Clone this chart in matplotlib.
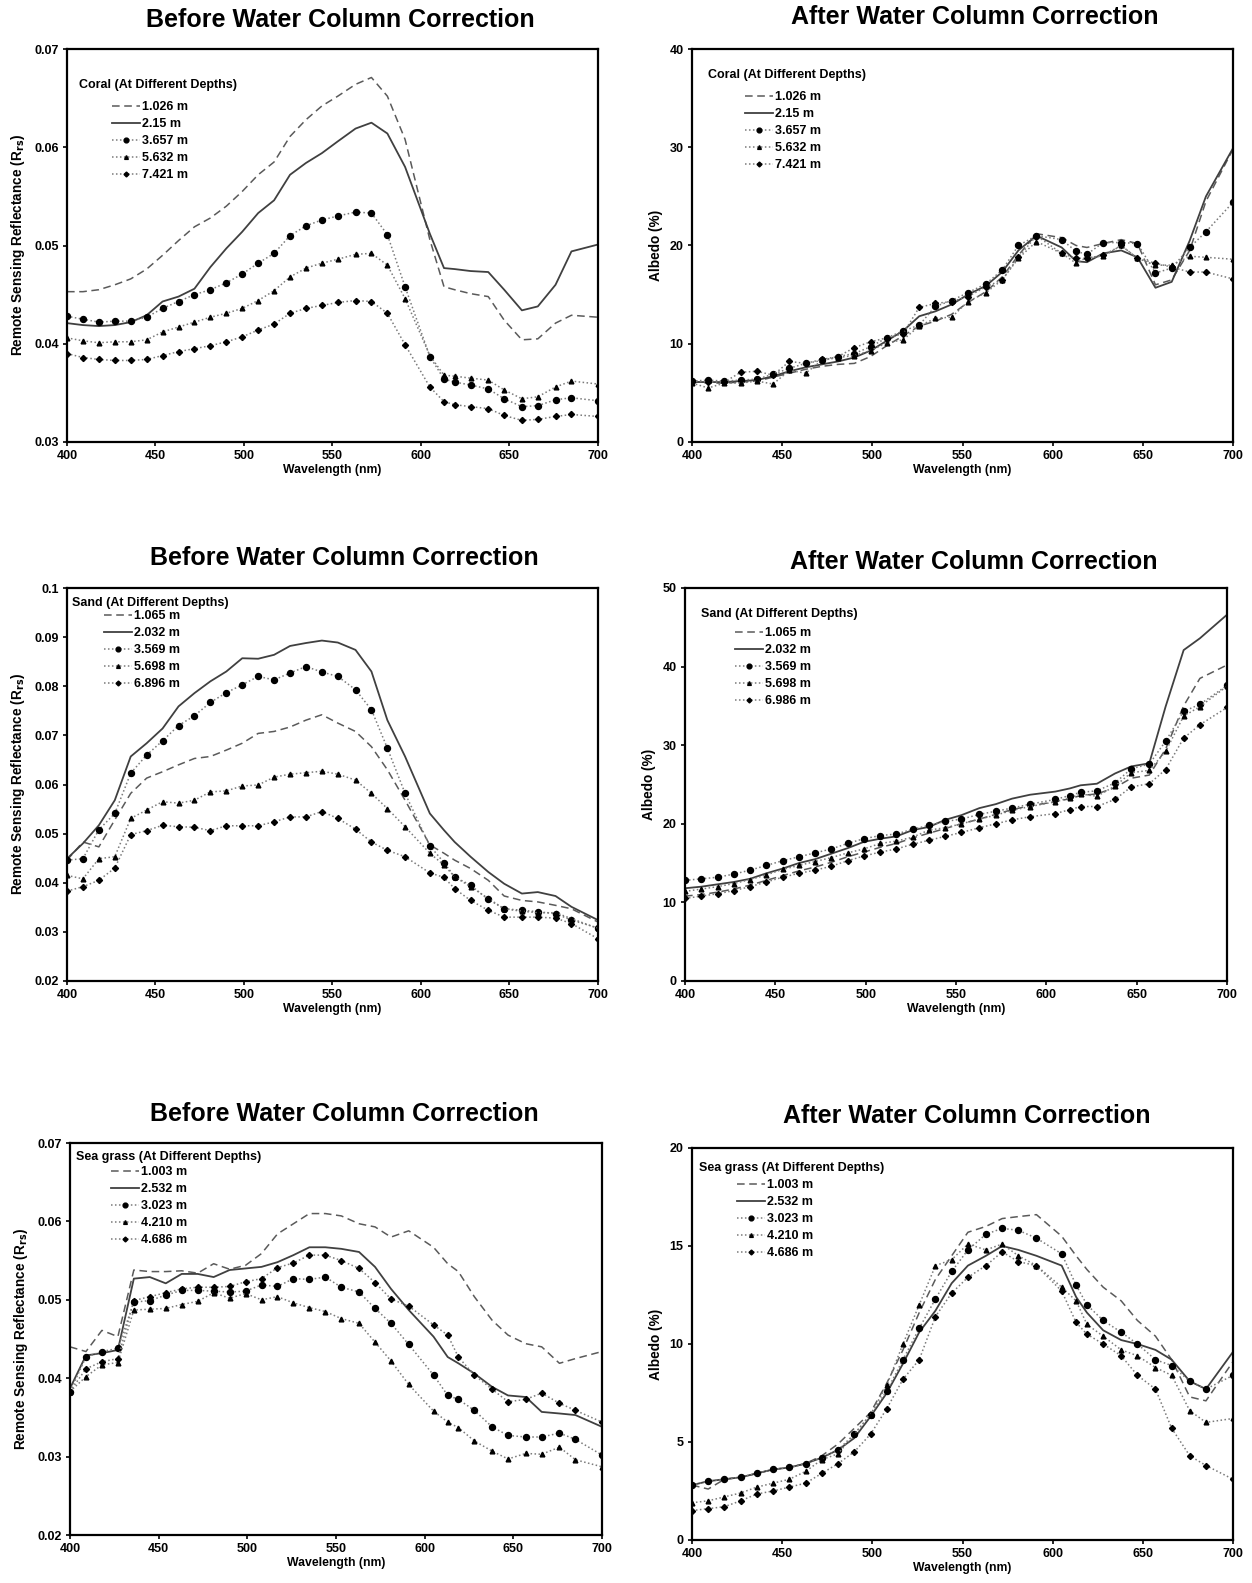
import numpy as np
import matplotlib.pyplot as plt
from matplotlib.ticker import FuncFormatter, MultipleLocator

plt.rcParams['font.family'] = ['Liberation Sans', 'DejaVu Sans']
plt.rcParams['font.weight'] = 'bold'

wl = [400, 409, 418, 427, 436, 445, 454, 463, 472, 481, 490, 499, 508, 517, 526, 535,
      544, 553, 563, 572, 581, 591, 605, 613, 619, 628, 638, 647, 657, 666, 676, 685, 700]

# coral, before correction (Rrs)
coral_before = {
    '1.026 m': [0.0453, 0.0453, 0.0455, 0.0460, 0.0466, 0.0476, 0.0490, 0.0505, 0.0519, 0.0528, 0.0540,
                0.0555, 0.0572, 0.0585, 0.0611, 0.0628, 0.0642, 0.0652, 0.0664, 0.0671, 0.0652, 0.0608,
                0.0506, 0.0458, 0.0455, 0.0451, 0.0448, 0.0424, 0.0404, 0.0405, 0.0421, 0.0429, 0.0427],
    '2.15 m': [0.0421, 0.0419, 0.0418, 0.0419, 0.0422, 0.0429, 0.0443, 0.0448, 0.0456, 0.0478, 0.0497,
               0.0514, 0.0533, 0.0546, 0.0572, 0.0584, 0.0594, 0.0606, 0.0619, 0.0625, 0.0614, 0.0580,
               0.0512, 0.0477, 0.0476, 0.0474, 0.0473, 0.0455, 0.0434, 0.0438, 0.0460, 0.0494, 0.0501],
    '3.657 m': [0.0428, 0.0425, 0.0422, 0.0423, 0.0423, 0.0427, 0.0436, 0.0443, 0.0450, 0.0455, 0.0462,
                0.0471, 0.0482, 0.0492, 0.0510, 0.0520, 0.0526, 0.0530, 0.0534, 0.0533, 0.0511, 0.0458,
                0.0387, 0.0364, 0.0361, 0.0358, 0.0354, 0.0344, 0.0336, 0.0337, 0.0343, 0.0345, 0.0342],
    '5.632 m': [0.0406, 0.0403, 0.0401, 0.0402, 0.0402, 0.0404, 0.0412, 0.0417, 0.0422, 0.0427, 0.0431,
                0.0436, 0.0444, 0.0454, 0.0468, 0.0477, 0.0482, 0.0486, 0.0491, 0.0492, 0.0480, 0.0446,
                0.0388, 0.0368, 0.0367, 0.0365, 0.0363, 0.0353, 0.0344, 0.0346, 0.0356, 0.0362, 0.0359],
    '7.421 m': [0.0390, 0.0386, 0.0384, 0.0383, 0.0383, 0.0384, 0.0388, 0.0392, 0.0395, 0.0398, 0.0402,
                0.0407, 0.0414, 0.0420, 0.0431, 0.0436, 0.0439, 0.0442, 0.0444, 0.0443, 0.0431, 0.0399,
                0.0356, 0.0341, 0.0338, 0.0336, 0.0334, 0.0327, 0.0322, 0.0323, 0.0326, 0.0328, 0.0326],
}

# coral, after correction (albedo %)
coral_after = {
    '1.026 m': [6.2, 6.0, 6.0, 6.1, 6.2, 6.6, 7.0, 7.4, 7.7, 7.9, 8.0, 8.7, 9.8, 10.8, 11.8, 12.3, 13.0,
                14.2, 15.3, 16.8, 19.0, 21.2, 20.8, 20.0, 19.8, 20.2, 20.6, 20.2, 16.0, 16.5, 19.5, 24.5, 29.8],
    '2.15 m': [6.1, 6.1, 6.1, 6.2, 6.3, 6.7, 7.2, 7.6, 7.9, 8.2, 8.6, 9.3, 10.3, 11.3, 12.8, 13.3, 14.0,
               15.0, 15.9, 17.3, 19.5, 21.0, 19.8, 18.4, 18.3, 19.2, 19.5, 18.8, 15.7, 16.3, 20.5, 25.0, 29.9],
    '3.657 m': [6.2, 6.3, 6.2, 6.3, 6.4, 6.9, 7.5, 8.0, 8.3, 8.7, 9.0, 9.7, 10.6, 11.3, 11.9, 13.8, 14.4,
                15.2, 16.1, 17.5, 20.0, 21.0, 20.6, 19.4, 19.1, 20.3, 20.3, 20.2, 17.2, 17.7, 19.8, 21.4, 24.4],
    '5.632 m': [6.0, 5.5, 6.0, 6.0, 6.2, 5.9, 7.3, 7.0, 8.3, 8.6, 8.8, 9.3, 10.1, 10.4, 11.8, 12.6, 12.7,
                14.3, 15.2, 16.5, 18.7, 20.4, 19.2, 18.2, 18.8, 18.9, 20.0, 18.7, 18.0, 18.0, 18.9, 18.8, 18.6],
    '7.421 m': [6.2, 6.1, 6.1, 7.1, 7.2, 6.8, 8.2, 8.0, 8.4, 8.7, 9.6, 10.2, 10.6, 11.0, 13.7, 14.1, 14.3,
                14.8, 15.8, 16.5, 18.8, 21.0, 19.2, 18.7, 18.7, 19.0, 20.0, 18.7, 18.2, 17.8, 17.3, 17.3, 16.6],
}

# sand, before correction (Rrs)
sand_before = {
    '1.065 m': [0.0446, 0.0483, 0.0473, 0.0528, 0.0582, 0.0613, 0.0626, 0.0640, 0.0653, 0.0657, 0.0670,
                0.0684, 0.0704, 0.0708, 0.0717, 0.0731, 0.0742, 0.0725, 0.0708, 0.0677, 0.0630, 0.0568,
                0.0477, 0.0460, 0.0446, 0.0429, 0.0405, 0.0373, 0.0364, 0.0361, 0.0354, 0.0347, 0.0320],
    '2.032 m': [0.0449, 0.0480, 0.0517, 0.0568, 0.0657, 0.0684, 0.0714, 0.0759, 0.0786, 0.0810, 0.0830,
                0.0857, 0.0856, 0.0864, 0.0882, 0.0888, 0.0893, 0.0889, 0.0874, 0.0830, 0.0731, 0.0657,
                0.0541, 0.0507, 0.0483, 0.0453, 0.0422, 0.0398, 0.0378, 0.0381, 0.0373, 0.0351, 0.0324],
    '3.569 m': [0.0446, 0.0449, 0.0508, 0.0541, 0.0623, 0.0660, 0.0689, 0.0720, 0.0740, 0.0767, 0.0787,
                0.0803, 0.0820, 0.0813, 0.0827, 0.0840, 0.0829, 0.0820, 0.0793, 0.0752, 0.0674, 0.0582,
                0.0475, 0.0441, 0.0412, 0.0395, 0.0366, 0.0347, 0.0344, 0.0341, 0.0337, 0.0324, 0.0308],
    '5.698 m': [0.0415, 0.0408, 0.0449, 0.0453, 0.0531, 0.0548, 0.0565, 0.0562, 0.0568, 0.0585, 0.0587,
                0.0597, 0.0599, 0.0615, 0.0621, 0.0624, 0.0627, 0.0621, 0.0609, 0.0582, 0.0551, 0.0514,
                0.0460, 0.0436, 0.0412, 0.0392, 0.0368, 0.0347, 0.0342, 0.0339, 0.0339, 0.0327, 0.0307],
    '6.896 m': [0.0383, 0.0392, 0.0405, 0.0430, 0.0498, 0.0506, 0.0517, 0.0514, 0.0513, 0.0506, 0.0516,
                0.0516, 0.0516, 0.0524, 0.0534, 0.0534, 0.0545, 0.0531, 0.0509, 0.0483, 0.0466, 0.0453,
                0.0420, 0.0411, 0.0388, 0.0364, 0.0344, 0.0330, 0.0330, 0.0330, 0.0328, 0.0317, 0.0286],
}

# sand, after correction (albedo %)
sand_after = {
    '1.065 m': [10.8, 11.0, 11.3, 11.7, 12.2, 12.8, 13.4, 14.0, 14.5, 15.1, 15.8, 16.4, 17.0, 17.5, 18.2,
                18.8, 19.4, 20.0, 20.6, 21.2, 21.8, 22.3, 22.8, 23.2, 23.6, 23.8, 24.6, 25.8, 26.2, 29.5,
                35.0, 38.5, 40.2],
    '2.032 m': [11.8, 12.0, 12.3, 12.6, 13.0, 13.7, 14.3, 15.0, 15.5, 16.2, 16.9, 17.7, 18.1, 18.4, 19.2,
                19.6, 20.5, 21.1, 22.0, 22.5, 23.2, 23.7, 24.1, 24.5, 24.9, 25.1, 26.4, 27.3, 27.7, 34.9,
                42.1, 43.6, 46.6],
    '3.569 m': [12.8, 13.0, 13.2, 13.6, 14.1, 14.7, 15.3, 15.8, 16.3, 16.8, 17.5, 18.1, 18.5, 18.7, 19.3,
                19.8, 20.3, 20.6, 21.2, 21.6, 22.0, 22.5, 23.1, 23.6, 24.0, 24.2, 25.2, 27.0, 27.6, 30.5,
                34.3, 35.2, 37.6],
    '5.698 m': [11.4, 11.7, 12.0, 12.4, 12.9, 13.5, 14.2, 14.7, 15.2, 15.7, 16.3, 16.8, 17.5, 17.8, 18.3,
                19.2, 19.5, 20.0, 20.6, 21.1, 21.7, 22.2, 22.8, 23.3, 23.8, 23.5, 24.8, 26.5, 26.8, 29.2,
                33.7, 34.9, 37.5],
    '6.986 m': [10.5, 10.8, 11.1, 11.5, 12.0, 12.6, 13.2, 13.7, 14.1, 14.6, 15.3, 15.9, 16.4, 16.8, 17.4,
                17.9, 18.4, 18.9, 19.5, 20.0, 20.5, 20.9, 21.3, 21.8, 22.2, 22.2, 23.1, 24.7, 25.1, 26.9,
                30.9, 32.6, 34.8],
}

# sea grass, before correction (Rrs)
grass_before = {
    '1.003 m': [0.0440, 0.0434, 0.0461, 0.0453, 0.0538, 0.0536, 0.0536, 0.0537, 0.0534, 0.0546, 0.0539,
                0.0544, 0.0559, 0.0584, 0.0597, 0.0610, 0.0610, 0.0607, 0.0597, 0.0593, 0.0580, 0.0588,
                0.0567, 0.0546, 0.0536, 0.0504, 0.0474, 0.0455, 0.0444, 0.0440, 0.0419, 0.0425, 0.0434],
    '2.532 m': [0.0387, 0.0429, 0.0432, 0.0436, 0.0527, 0.0529, 0.0521, 0.0533, 0.0533, 0.0529, 0.0538,
                0.0540, 0.0542, 0.0548, 0.0557, 0.0567, 0.0567, 0.0565, 0.0561, 0.0542, 0.0514, 0.0487,
                0.0453, 0.0427, 0.0419, 0.0406, 0.0389, 0.0378, 0.0376, 0.0357, 0.0355, 0.0353, 0.0338],
    '3.023 m': [0.0383, 0.0427, 0.0434, 0.0438, 0.0497, 0.0499, 0.0506, 0.0512, 0.0512, 0.0511, 0.0510,
                0.0511, 0.0519, 0.0517, 0.0527, 0.0526, 0.0529, 0.0516, 0.0510, 0.0489, 0.0470, 0.0443,
                0.0404, 0.0378, 0.0373, 0.0359, 0.0338, 0.0327, 0.0325, 0.0325, 0.0330, 0.0322, 0.0302],
    '4.210 m': [0.0383, 0.0402, 0.0417, 0.0420, 0.0487, 0.0488, 0.0489, 0.0494, 0.0498, 0.0509, 0.0502,
                0.0508, 0.0500, 0.0504, 0.0496, 0.0490, 0.0485, 0.0476, 0.0470, 0.0446, 0.0422, 0.0392,
                0.0358, 0.0344, 0.0337, 0.0320, 0.0307, 0.0297, 0.0304, 0.0303, 0.0312, 0.0296, 0.0287],
    '4.686 m': [0.0383, 0.0412, 0.0421, 0.0425, 0.0499, 0.0504, 0.0509, 0.0514, 0.0516, 0.0516, 0.0517,
                0.0523, 0.0527, 0.0541, 0.0547, 0.0557, 0.0557, 0.0550, 0.0540, 0.0522, 0.0501, 0.0492,
                0.0468, 0.0455, 0.0427, 0.0404, 0.0386, 0.0370, 0.0373, 0.0381, 0.0368, 0.0359, 0.0344],
}

# sea grass, after correction (albedo %)
grass_after = {
    '1.003 m': [2.8, 2.6, 3.1, 3.2, 3.4, 3.6, 3.7, 3.9, 4.3, 4.9, 5.7, 6.5, 8.0, 9.7, 11.6, 13.3, 14.5,
                15.7, 16.0, 16.4, 16.5, 16.6, 15.5, 14.5, 13.8, 12.9, 12.2, 11.2, 10.4, 9.2, 7.3, 7.1, 9.1],
    '2.532 m': [2.8, 3.0, 3.1, 3.2, 3.4, 3.6, 3.7, 3.9, 4.2, 4.6, 5.2, 6.3, 7.5, 9.0, 10.6, 11.7, 13.1,
                14.0, 14.5, 15.0, 14.8, 14.5, 14.0, 12.4, 11.6, 10.7, 10.2, 10.0, 9.7, 9.2, 8.1, 7.7, 9.6],
    '3.023 m': [2.8, 3.0, 3.1, 3.2, 3.4, 3.6, 3.7, 3.9, 4.2, 4.6, 5.4, 6.4, 7.6, 9.2, 10.8, 12.3, 13.7,
                14.8, 15.6, 15.9, 15.8, 15.4, 14.6, 13.0, 12.0, 11.2, 10.6, 10.0, 9.2, 8.9, 8.1, 7.7, 8.4],
    '4.210 m': [1.9, 2.0, 2.2, 2.4, 2.7, 2.9, 3.1, 3.5, 4.1, 4.4, 5.4, 6.4, 7.9, 10.0, 12.0, 14.0, 14.3,
                15.1, 14.8, 15.1, 14.5, 14.0, 12.9, 12.2, 11.0, 10.4, 9.7, 9.4, 8.8, 8.4, 6.6, 6.0, 6.2],
    '4.686 m': [1.5, 1.6, 1.7, 2.0, 2.35, 2.5, 2.7, 2.9, 3.4, 3.9, 4.5, 5.4, 6.7, 8.2, 9.2, 11.4, 12.6,
                13.4, 14.0, 14.7, 14.2, 14.0, 12.7, 11.1, 10.5, 10.0, 9.4, 8.4, 7.7, 5.7, 4.3, 3.8, 3.1],
}

W, H = 1252, 1583
dot = (0, (1, 1.6))
styles = [
    dict(ls=(0, (5, 3)), color='#5a5a5a', lw=1.1, marker=None),
    dict(ls='-', color='#404040', lw=1.3, marker=None),
    dict(ls=dot, color='#7a7a7a', lw=1.1, marker='o', ms=4.3),
    dict(ls=dot, color='#7a7a7a', lw=1.1, marker='^', ms=3.4),
    dict(ls=dot, color='#7a7a7a', lw=1.1, marker='D', ms=3.1),
]

fig = plt.figure(figsize=(W / 100, H / 100), dpi=100)


def panel(box, data, title, title_xy, ylim, ystep, ylabel, legend_title, leg_pos):
    # box: left, top, right, bottom in pixels
    l, t, r, b = box
    ax = fig.add_axes([l / W, 1 - b / H, (r - l) / W, (b - t) / H])
    for (label, vals), st in zip(data.items(), styles):
        ax.plot(wl, vals, linestyle=st['ls'], color=st['color'], lw=st['lw'],
                marker=st['marker'], ms=st.get('ms', 0), mfc='black', mec='black',
                label=label)
    ax.set_xlim(400, 700)
    ax.set_ylim(*ylim)
    ax.xaxis.set_major_locator(MultipleLocator(50))
    ax.yaxis.set_major_locator(MultipleLocator(ystep))
    ax.yaxis.set_major_formatter(FuncFormatter(lambda v, p: f'{v:g}'))
    ax.tick_params(labelsize=9, direction='out', length=3, width=1.2, pad=3)
    for s in ax.spines.values():
        s.set_linewidth(1.6)
    ax.set_xlabel('Wavelength (nm)', fontsize=8.8, fontweight='bold', labelpad=1)
    ax.set_ylabel(ylabel, fontsize=9.8, fontweight='bold', labelpad=5)
    fig.text(title_xy[0] / W, 1 - title_xy[1] / H, title, ha='center', va='center',
             fontsize=18, fontweight='bold')
    tx, ty, hx, hy = leg_pos
    fig.text(tx / W, 1 - ty / H, legend_title, ha='left', va='center', fontsize=9,
             fontweight='bold')
    ax.legend(loc='upper left', bbox_to_anchor=(hx / W, 1 - (hy - 9) / H),
              bbox_transform=fig.transFigure, frameon=False,
              handlelength=2.2, handletextpad=0.2, labelspacing=0.4, borderpad=0,
              borderaxespad=0, markerscale=0.8, prop={'weight': 'bold', 'size': 9})
    return ax


rrs = 'Remote Sensing Reflectance (R$_{\\mathbf{rs}}$)'
panel((67, 49, 598, 442), coral_before, 'Before Water Column Correction', (340, 20),
      (0.03, 0.07), 0.01, rrs, 'Coral (At Different Depths)', (79, 85, 112, 110))
panel((692, 49, 1233, 442), coral_after, 'After Water Column Correction', (975, 17),
      (0, 40), 10, 'Albedo (%)', 'Coral (At Different Depths)', (708, 75, 745, 100))
panel((67, 588, 598, 981), sand_before, 'Before Water Column Correction', (344, 558),
      (0.02, 0.1), 0.01, rrs, 'Sand (At Different Depths)', (72, 603, 104, 619))
panel((685, 588, 1227, 981), sand_after, 'After Water Column Correction', (974, 562),
      (0, 50), 10, 'Albedo (%)', 'Sand (At Different Depths)', (701, 614, 735, 636))
panel((70, 1143, 602, 1535), grass_before, 'Before Water Column Correction', (344, 1114),
      (0.02, 0.07), 0.01, rrs, 'Sea grass (At Different Depths)', (76, 1157, 111, 1175))
panel((692, 1148, 1233, 1540), grass_after, 'After Water Column Correction', (967, 1116),
      (0, 20), 5, 'Albedo (%)', 'Sea grass (At Different Depths)', (699, 1168, 737, 1188))

fig.savefig('out.png', dpi=100)
